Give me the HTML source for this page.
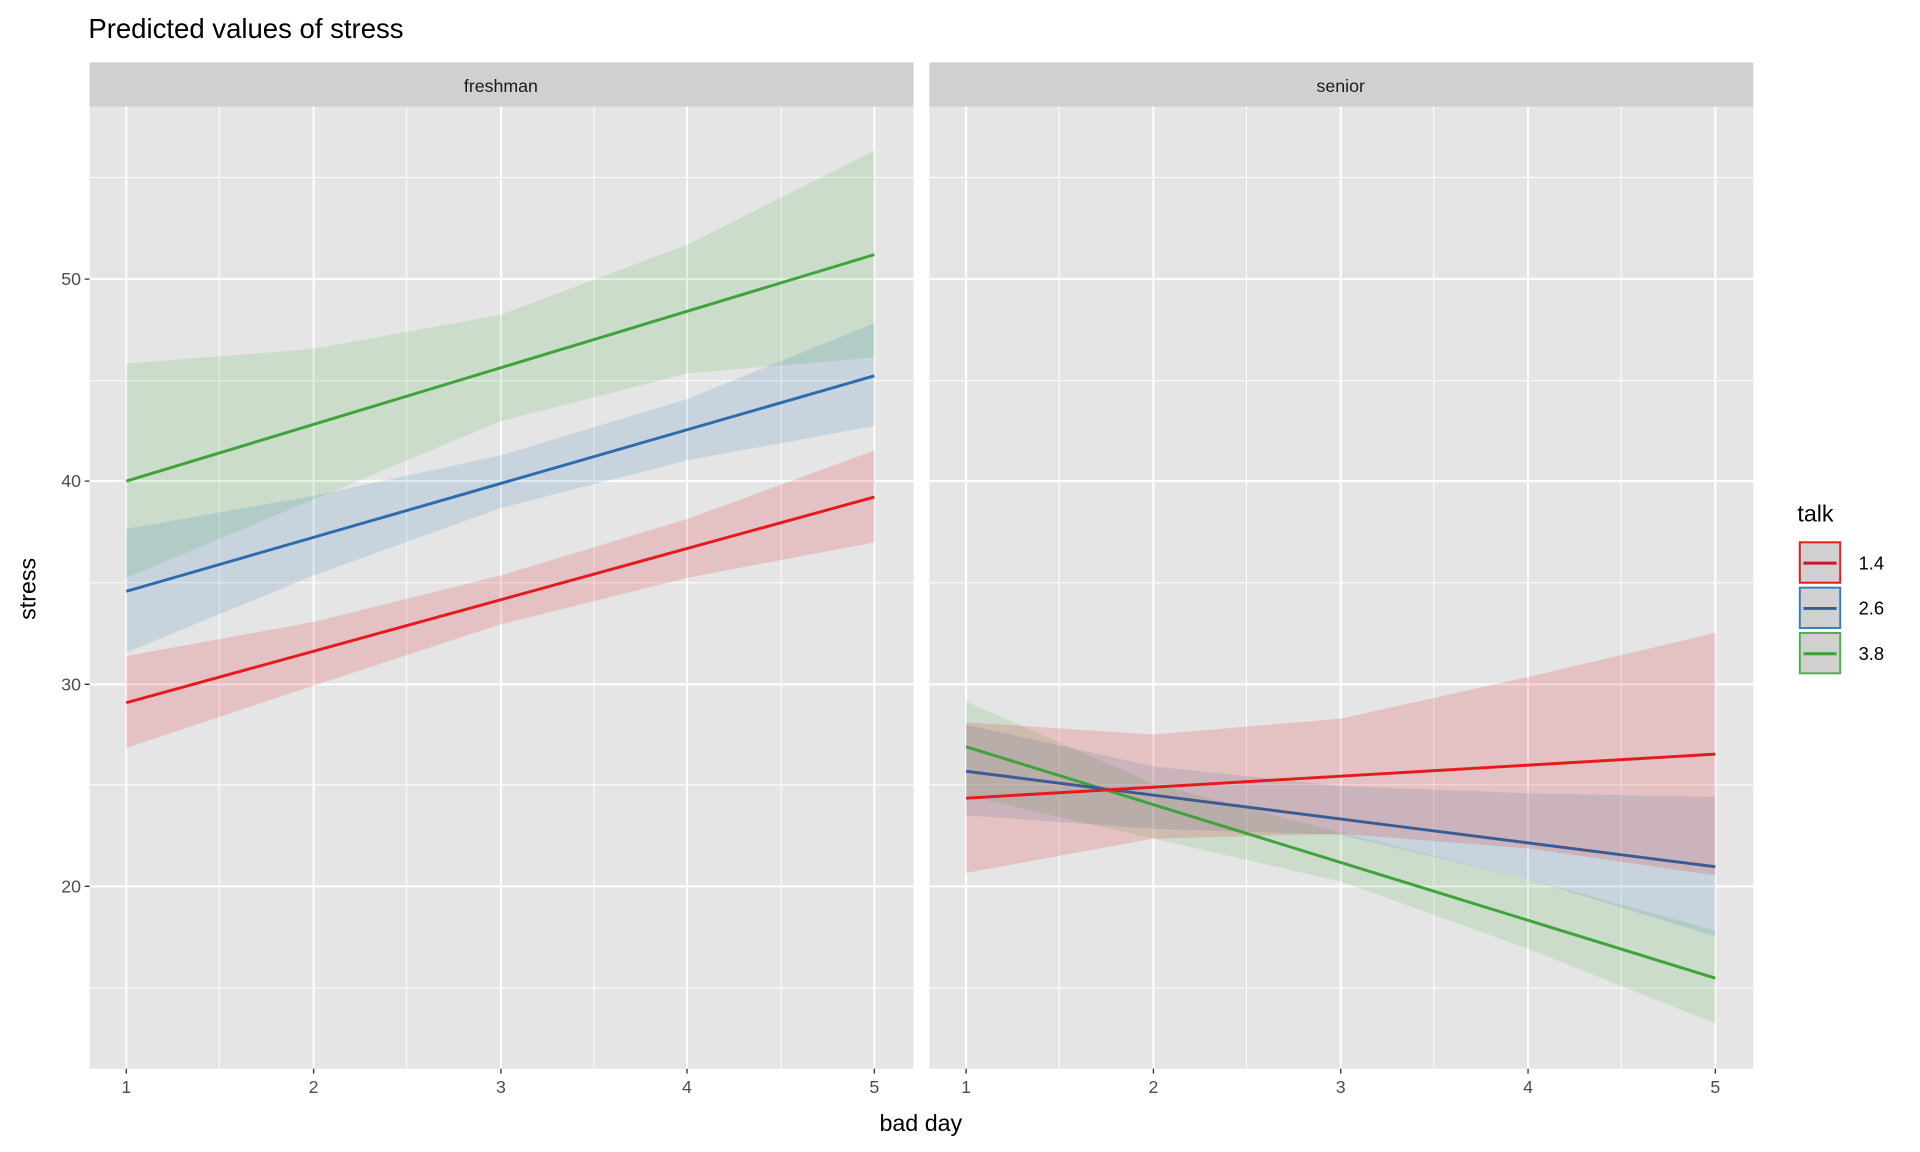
<!DOCTYPE html>
<html><head><meta charset="utf-8"><style>
html,body{margin:0;padding:0;background:#fff;}
svg{display:block;}
text{font-family:"Liberation Sans",Arial,sans-serif;}
</style></head><body>
<svg width="1920" height="1152" viewBox="0 0 1568 941" xmlns="http://www.w3.org/2000/svg">
<rect width="1568" height="941" fill="#fff"/>
<text x="72" y="31" font-size="22.5" fill="#000">Predicted values of stress</text>
<rect x="73" y="51" width="673" height="36" fill="#d0d0d0"/>
<rect x="759" y="51" width="673" height="36" fill="#d0d0d0"/>
<text x="409" y="75" font-size="14.5" fill="#1a1a1a" text-anchor="middle">freshman</text>
<text x="1095" y="75" font-size="14.5" fill="#1a1a1a" text-anchor="middle">senior</text>
<rect x="73" y="87" width="673" height="786" fill="#e5e5e5"/>
<rect x="759" y="87" width="673" height="786" fill="#e5e5e5"/>
<g stroke="#fff">
<g stroke-width="0.8">
<path d="M73 145H746M73 311H746M73 476H746M73 641H746M73 807H746M759 145H1432M759 311H1432M759 476H1432M759 641H1432M759 807H1432"/>
<path d="M179 87V873M332 87V873M485 87V873M638 87V873M865 87V873M1018 87V873M1171 87V873M1324 87V873"/>
</g>
<g stroke-width="1.6">
<path d="M73 228H746M73 393H746M73 559H746M73 724H746M759 228H1432M759 393H1432M759 559H1432M759 724H1432"/>
<path d="M103 87V873M256 87V873M409 87V873M561 87V873M714 87V873M789 87V873M942 87V873M1095 87V873M1248 87V873M1401 87V873"/>
</g>
</g>
<g fill-opacity="0.17">
<polygon fill="#4DAF4A" points="103,297 256,285 409,257 561,200 714,123 714,292 561,305 409,344 256,408 103,472"/>
<polygon fill="#377EB8" points="103,432 256,405 409,372 561,326 714,264 714,348 561,376 409,415 256,470 103,533"/>
<polygon fill="#E41A1C" points="103,536 256,508 409,470 561,424 714,368 714,443 561,472 409,510 256,560 103,611"/>
<polygon fill="#4DAF4A" points="789,573 942,640 1095,680 1248,718 1401,760 1401,836 1248,775 1095,720 942,685 789,650"/>
<polygon fill="#377EB8" points="789,592 942,626 1095,642 1248,648 1401,651 1401,765 1248,718 1095,682 942,677 789,666"/>
<polygon fill="#E41A1C" points="789,590 942,600 1095,587 1248,553 1401,517 1401,715 1248,693 1095,681 942,685 789,713"/>
</g>
<g stroke-width="2.4" fill="none">
<line x1="103" y1="574" x2="714" y2="406" stroke="#E41A1C"/>
<line x1="103" y1="483" x2="714" y2="307" stroke="#2C6BAD"/>
<line x1="103" y1="393" x2="714" y2="208" stroke="#3FA23A"/>
<line x1="789" y1="610" x2="1401" y2="799" stroke="#3FA23A"/>
<line x1="789" y1="630" x2="1401" y2="708" stroke="#3C5B94"/>
<line x1="789" y1="652" x2="1401" y2="616" stroke="#E41A1C"/>
</g>
<g stroke="#333" stroke-width="1.1">
<path d="M69 228H73M69 393H73M69 559H73M69 724H73"/>
<path d="M103 873V877M256 873V877M409 873V877M561 873V877M714 873V877M789 873V877M942 873V877M1095 873V877M1248 873V877M1401 873V877"/>
</g>
<g font-size="14.5" fill="#4d4d4d">
<g text-anchor="end"><text x="66" y="233">50</text><text x="66" y="398">40</text><text x="66" y="564">30</text><text x="66" y="729">20</text></g>
<g text-anchor="middle"><text x="103" y="893">1</text><text x="256" y="893">2</text><text x="409" y="893">3</text><text x="561" y="893">4</text><text x="714" y="893">5</text><text x="789" y="893">1</text><text x="942" y="893">2</text><text x="1095" y="893">3</text><text x="1248" y="893">4</text><text x="1401" y="893">5</text></g>
</g>
<text x="752" y="924" font-size="19" text-anchor="middle" fill="#000">bad day</text>
<text transform="translate(29,481) rotate(-90)" font-size="19" text-anchor="middle" fill="#000">stress</text>
<text x="1468" y="426" font-size="19" fill="#000">talk</text>
<rect x="1470" y="443" width="33" height="33" fill="#d0d0d0" stroke="#E41A1C" stroke-width="1.6"/>
<rect x="1470" y="480" width="33" height="33" fill="#d0d0d0" stroke="#377EB8" stroke-width="1.6"/>
<rect x="1470" y="517" width="33" height="33" fill="#d0d0d0" stroke="#4DAF4A" stroke-width="1.6"/>
<g stroke-width="2.4"><line x1="1473" y1="460" x2="1500" y2="460" stroke="#C5162A"/><line x1="1473" y1="497" x2="1500" y2="497" stroke="#2F5F99"/><line x1="1473" y1="534" x2="1500" y2="534" stroke="#3F9A3A"/></g>
<g font-size="15" fill="#000"><text x="1518" y="465">1.4</text><text x="1518" y="502">2.6</text><text x="1518" y="539">3.8</text></g>
</svg>
</body></html>
